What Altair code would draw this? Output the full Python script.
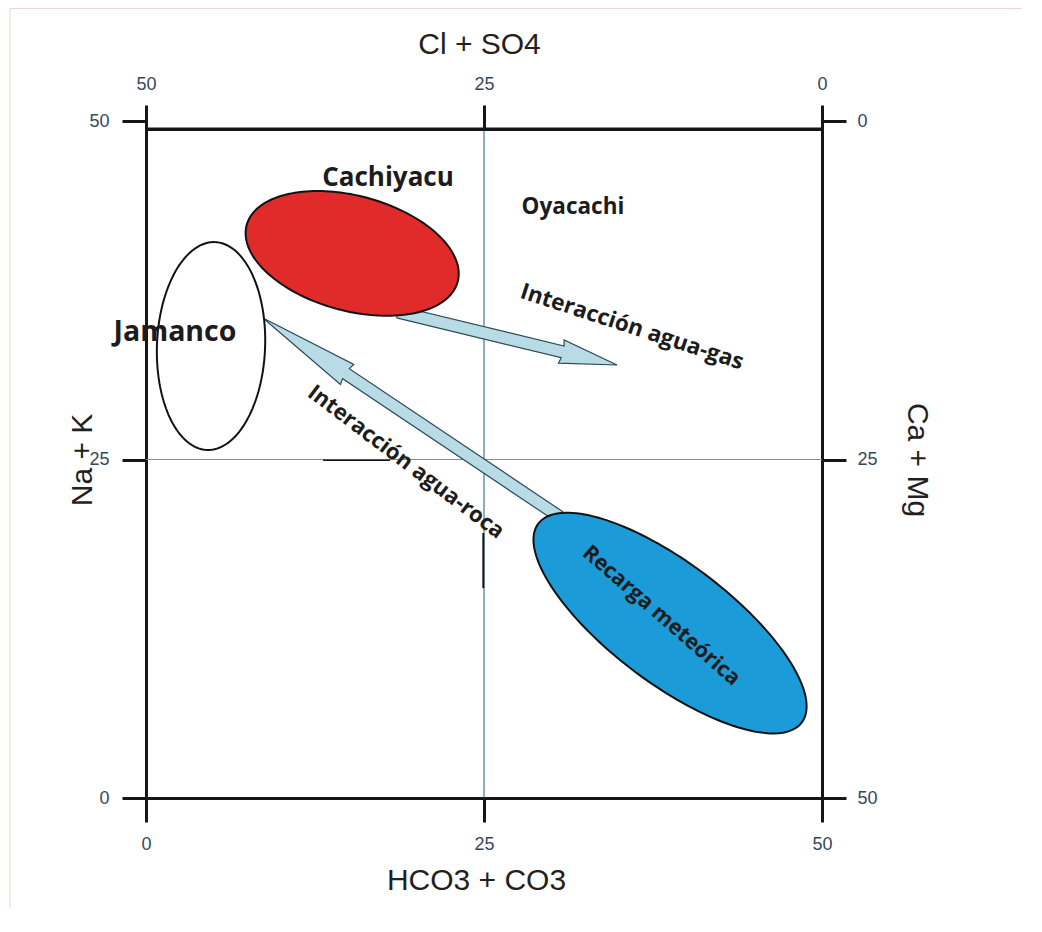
import math
import altair as alt
import pandas as pd

# ---------------- data ----------------
tick_values = [0, 25, 50]
center_value = [25]
frame_top = [49.41]

# ellipses (center, semi-axes in data units, orientation of major axis in degrees)
ell_names = ["Jamanco", "Cachiyacu", "Recarga meteórica"]
ell_cx = [4.81, 15.25, 38.76]
ell_cy = [33.38, 40.22, 12.92]
ell_a = [7.68, 8.08, 12.20]
ell_b = [4.00, 4.25, 4.43]
ell_angle = [87.8, -15.0, -37.0]
ell_fill = ["#ffffff", "#e12b2b", "#1b9bd7"]

# arrows: start and tip in data units
arr_names = ["Interacción agua-gas", "Interacción agua-roca"]
arr_x0 = [18.64, 30.62]
arr_y0 = [35.89, 20.75]
arr_x1 = [34.84, 8.65]
arr_y1 = [31.98, 35.45]

# labels
lab_text = ["Cachiyacu", "Oyacachi", "Jamanco", "Interacción agua-gas",
            "Interacción agua-roca", "Recarga meteórica"]
lab_x = [17.90, 31.58, 2.14, 35.95, 19.23, 38.09]
lab_y = [45.79, 43.65, 34.42, 34.79, 24.82, 13.44]
lab_angle = [0, 0, 0, 18, 37, 41]
lab_size = [26, 22.5, 28.5, 22.5, 22, 21.5]

# stray pen strokes on the original figure
stray_h_x = [13.1, 18.05]
stray_h_y = [24.95]
stray_v_x = [24.95]
stray_v_y = [15.5, 19.57]

# ---------------- geometry helpers ----------------
PX = 13.53  # pixels per data unit (for sizes only)


def ellipse_pts(cx, cy, a, b, ang, n=160):
    th = math.radians(ang)
    rows = []
    for i in range(n + 1):
        t = 2 * math.pi * i / n
        ex, ey = a * math.cos(t), b * math.sin(t)
        rows.append((i, cx + ex * math.cos(th) - ey * math.sin(th),
                     cy + ex * math.sin(th) + ey * math.cos(th)))
    return rows


def arrow_pts(x0, y0, x1, y1, w, hl, hw):
    dx, dy = x1 - x0, y1 - y0
    L = math.hypot(dx, dy)
    ux, uy = dx / L, dy / L
    px, py = -uy, ux
    loc = [(0, -w), (L - hl, -w), (L - hl - 0.1, -hw), (L, 0), (L - hl - 0.1, hw),
           (L - hl, w), (0, w), (0, -w)]
    return [(i, x0 + u * ux + v * px, y0 + u * uy + v * py) for i, (u, v) in enumerate(loc)]


xs = alt.Scale(domain=[0, 50], nice=False, zero=False)
ys = alt.Scale(domain=[0, 50], nice=False, zero=False)

FONT_AX = "Liberation Sans"
LBL_COL = "#34495a"
TTL_COL = "#231f20"
LINE_COL = "#161616"

common_axis = dict(values=tick_values, tickSize=24, tickWidth=3, tickColor=LINE_COL,
                   domainColor=LINE_COL, domainWidth=3, domainCap="square",
                   labelFont=FONT_AX, labelFontSize=18, labelColor=LBL_COL,
                   titleFont=FONT_AX, titleFontSize=30, titleFontWeight="normal",
                   titleColor=TTL_COL, grid=False, labelFlush=False, labelOverlap=False)

ax_bottom = alt.Axis(orient="bottom", title="HCO3 + CO3", labelPadding=13,
                     titlePadding=12, titleX=330, **common_axis)
ax_left = alt.Axis(orient="left", title="Na + K", labelPadding=13, titleX=-49,
                   **common_axis)
ax_top = alt.Axis(orient="top", title="Cl + SO4", labelPadding=12, titlePadding=16,
                  titleX=333, offset=-8, labelExpr="50 - datum.value", **common_axis)
ax_right = alt.Axis(orient="right", title="Ca + Mg", labelPadding=11, titleX=79,
                    labelExpr="50 - datum.value", **common_axis)

# vertical centre line (carries bottom / left axes)
df_v = pd.DataFrame({"x": center_value, "y": [0], "y2": frame_top})
vline = alt.Chart(df_v).mark_rule(color="#1f5f7c", strokeWidth=1).encode(
    x=alt.X("x:Q", scale=xs, axis=ax_bottom),
    y=alt.Y("y:Q", scale=ys, axis=ax_left),
    y2="y2:Q",
)

# horizontal centre line (carries top / right axes)
df_h = pd.DataFrame({"y": center_value, "x": [0], "x2": [50]})
hline = alt.Chart(df_h).mark_rule(color="#8a8a8a", strokeWidth=1).encode(
    x=alt.X("x:Q", scale=xs, axis=ax_top),
    x2="x2:Q",
    y=alt.Y("y:Q", scale=ys, axis=ax_right),
)

# top frame line
df_top = pd.DataFrame({"y": frame_top, "x": [0], "x2": [50]})
topline = alt.Chart(df_top).mark_rule(color=LINE_COL, strokeWidth=3).encode(
    x=alt.X("x:Q", scale=xs, axis=None), x2="x2:Q",
    y=alt.Y("y:Q", scale=ys, axis=None),
)

# stray strokes
df_sh = pd.DataFrame({"x": [stray_h_x[0]], "x2": [stray_h_x[1]], "y": stray_h_y})
stray_h = alt.Chart(df_sh).mark_rule(color=LINE_COL, strokeWidth=1.5).encode(
    x=alt.X("x:Q", scale=xs, axis=None), x2="x2:Q",
    y=alt.Y("y:Q", scale=ys, axis=None))
df_sv = pd.DataFrame({"x": stray_v_x, "y": [stray_v_y[0]], "y2": [stray_v_y[1]]})
stray_v = alt.Chart(df_sv).mark_rule(color=LINE_COL, strokeWidth=2).encode(
    x=alt.X("x:Q", scale=xs, axis=None),
    y=alt.Y("y:Q", scale=ys, axis=None), y2="y2:Q")

# faint page border of the scanned figure
border_top = alt.Chart(df_top).mark_rule(color="#f0d2d2", strokeWidth=1).encode(
    x=alt.value(-136), x2=alt.value(880), y=alt.value(-112.5))
border_left = alt.Chart(df_top).mark_rule(color="#f0d2d2", strokeWidth=1).encode(
    x=alt.value(-136), y=alt.value(-112.5), y2=alt.value(800))

layers = [border_top, border_left, vline, hline, stray_h, stray_v]

# arrows
arrow_dims = [(6.0 / PX, 56 / PX, 12.0 / PX), (6.0 / PX, 100 / PX, 12.0 / PX)]
for k in range(len(arr_names)):
    w, hl, hw = arrow_dims[k]
    pts = arrow_pts(arr_x0[k], arr_y0[k], arr_x1[k], arr_y1[k], w, hl, hw)
    df = pd.DataFrame(pts, columns=["i", "x", "y"])
    layers.append(
        alt.Chart(df).mark_line(fill="#b8dbe5", stroke="#2c4a58", strokeWidth=1.2,
                                strokeJoin="miter").encode(
            x=alt.X("x:Q", scale=xs, axis=None),
            y=alt.Y("y:Q", scale=ys, axis=None),
            order="i:Q",
        )
    )

# ellipses
for k in range(len(ell_names)):
    pts = ellipse_pts(ell_cx[k], ell_cy[k], ell_a[k], ell_b[k], ell_angle[k])
    df = pd.DataFrame(pts, columns=["i", "x", "y"])
    layers.append(
        alt.Chart(df).mark_line(fill=ell_fill[k], stroke="#121212", strokeWidth=2).encode(
            x=alt.X("x:Q", scale=xs, axis=None),
            y=alt.Y("y:Q", scale=ys, axis=None),
            order="i:Q",
        )
    )

layers.append(topline)

# text labels
for k in range(len(lab_text)):
    df = pd.DataFrame({"x": [lab_x[k]], "y": [lab_y[k]], "t": [lab_text[k]]})
    layers.append(
        alt.Chart(df).mark_text(font="Open Sans", fontWeight="bold", fontSize=lab_size[k],
                                angle=lab_angle[k], color="#1c1c1c", align="center",
                                baseline="middle").encode(
            x=alt.X("x:Q", scale=xs, axis=None),
            y=alt.Y("y:Q", scale=ys, axis=None),
            text="t:N",
        )
    )

chart = alt.layer(*layers).properties(
    width=676, height=677,
    autosize=alt.AutoSizeParams(type="none"),
    padding={"left": 138, "top": 113, "right": 200, "bottom": 110},
    background="white",
).configure_view(stroke=None)

chart.save("out.html", embed_options={"renderer": "svg", "actions": False})
